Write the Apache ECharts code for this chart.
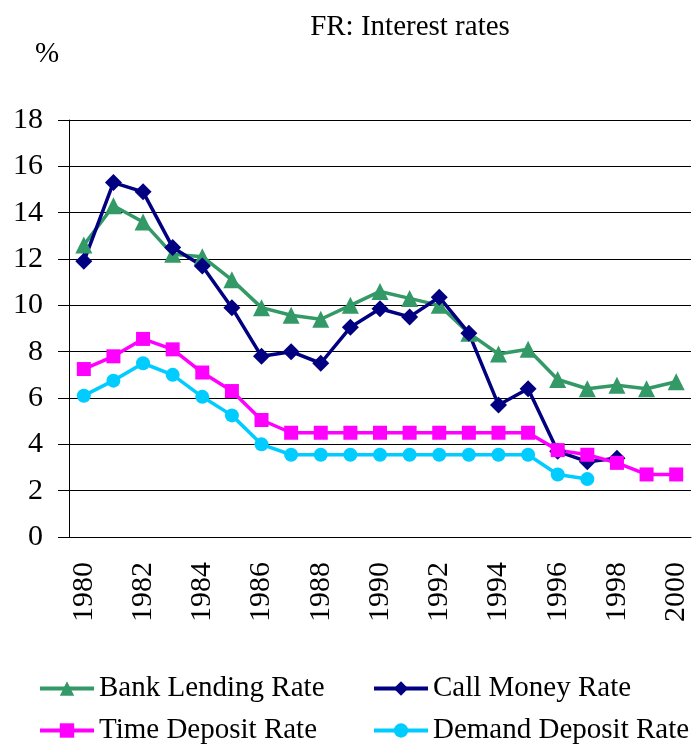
<!DOCTYPE html>
<html>
<head>
<meta charset="utf-8">
<script src="https://cdn.jsdelivr.net/npm/echarts@6/dist/echarts.min.js"></script>
<style>
  html, body { margin: 0; padding: 0; background: #fff; }
  #chart { width: 693px; height: 744px; }
</style>
</head>
<body>
<div id="chart"></div>
<script>
// years on the category axis
var years = ['1980', '1981', '1982', '1983', '1984', '1985', '1986', '1987', '1988', '1989', '1990',
  '1991', '1992', '1993', '1994', '1995', '1996', '1997', '1998', '1999', '2000']

// rates in % (null = no value)
var bankLending = [12.6, 14.3, 13.6, 12.2, 12.1, 11.1, 9.9, 9.57, 9.4, 10.0, 10.6,
  10.3, 10.0, 8.8, 7.9, 8.1, 6.8, 6.4, 6.55, 6.4, 6.7]
var callMoney = [11.9, 15.3, 14.9, 12.5, 11.7, 9.9, 7.8, 8.0, 7.5, 9.05, 9.85,
  9.5, 10.35, 8.8, 5.7, 6.4, 3.7, 3.25, 3.4, null, null]
var timeDeposit = [7.25, 7.8, 8.55, 8.1, 7.1, 6.3, 5.05, 4.5, 4.5, 4.5, 4.5,
  4.5, 4.5, 4.5, 4.5, 4.5, 3.75, 3.55, 3.2, 2.7, 2.7]
var demandDeposit = [6.1, 6.75, 7.5, 7.0, 6.05, 5.25, 4.0, 3.55, 3.55, 3.55, 3.55,
  3.55, 3.55, 3.55, 3.55, 3.55, 2.7, 2.5, null, null, null]

var serif = '"Liberation Serif", "Times New Roman", serif'

var chart = echarts.init(document.getElementById('chart'))

function line(name, data, color, symbol, size) {
  return {
    name: name,
    type: 'line',
    data: data,
    symbol: symbol,
    symbolSize: size,
    connectNulls: false,
    itemStyle: { color: color },
    lineStyle: { color: color, width: 3.5 },
    animation: false
  }
}

// one legend per entry so the 2x2 block lines up like the original
function legendItem(name, left, top) {
  return {
    left: left,
    top: top,
    itemWidth: 54,
    itemHeight: 18,
    lineStyle: { width: 4 },
    textStyle: { fontFamily: serif, fontSize: 29, color: '#000' },
    data: [name]
  }
}

chart.setOption({
  title: [
    {
      text: 'FR: Interest rates',
      left: 405,
      top: 8,
      textAlign: 'center',
      textStyle: { fontFamily: serif, fontSize: 29, fontWeight: 'normal', color: '#000' }
    },
    {
      text: '%',
      left: 30,
      top: 35,
      textStyle: { fontFamily: serif, fontSize: 29, fontWeight: 'normal', color: '#000' }
    }
  ],
  grid: { left: 69, right: 2, top: 120, bottom: 207 },
  xAxis: {
    type: 'category',
    data: years,
    boundaryGap: true,
    axisLine: { lineStyle: { color: '#000', width: 1 } },
    axisTick: { interval: 0, length: 8, lineStyle: { color: '#000' } },
    axisLabel: {
      interval: 1,
      rotate: 90,
      margin: 25,
      fontFamily: serif,
      fontSize: 30,
      color: '#000'
    }
  },
  yAxis: {
    type: 'value',
    min: 0,
    max: 18,
    interval: 2,
    axisLine: { show: true, lineStyle: { color: '#000', width: 1 } },
    axisTick: { show: true, length: 11, lineStyle: { color: '#000' } },
    splitLine: { lineStyle: { color: '#000', width: 1 } },
    axisLabel: { margin: 26, fontFamily: serif, fontSize: 30, color: '#000' }
  },
  legend: [
    legendItem('Bank Lending Rate', 33, 669),
    legendItem('Call Money Rate', 367, 669),
    legendItem('Time Deposit Rate', 33, 711),
    legendItem('Demand Deposit Rate', 367, 711)
  ],
  series: [
    line('Bank Lending Rate', bankLending, '#339966', 'triangle', 17),
    line('Call Money Rate', callMoney, '#000080', 'diamond', 17),
    line('Time Deposit Rate', timeDeposit, '#FF00FF', 'rect', 14),
    line('Demand Deposit Rate', demandDeposit, '#00CCFF', 'circle', 14)
  ]
})
</script>
</body>
</html>
